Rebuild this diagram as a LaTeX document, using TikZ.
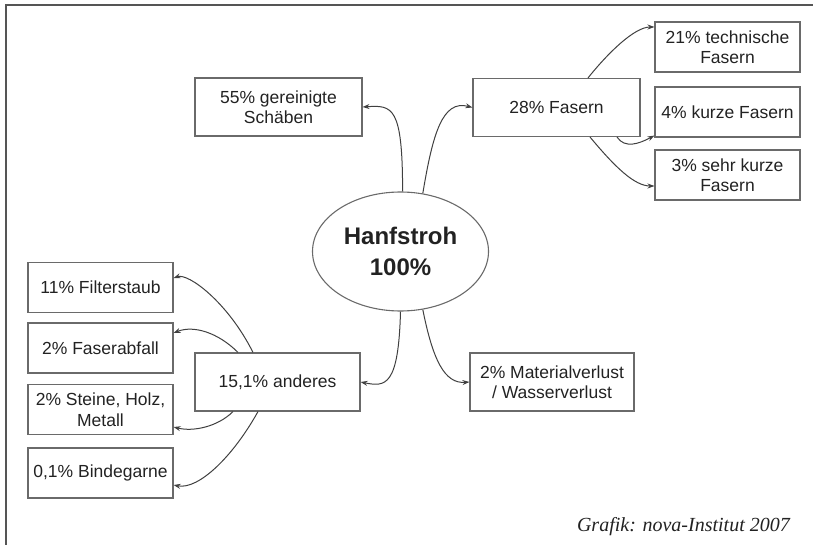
\documentclass[tikz,border=0pt]{standalone}
\usepackage{fontspec}
\newfontfamily\boxfont{Liberation Sans}
\newfontfamily\capfont{Liberation Serif}
\usetikzlibrary{arrows.meta,shapes.geometric}
\definecolor{boxgray}{HTML}{6A6A6A}
\definecolor{conngray}{HTML}{404040}
\definecolor{textgray}{HTML}{222222}
\definecolor{framegray}{HTML}{555555}
\begin{document}
\begin{tikzpicture}[x=1pt,y=-1pt,
  box/.style={draw=boxgray, line width=1.1pt, rectangle, inner sep=0pt, align=center,
    text=textgray, font=\boxfont\fontsize{17.5}{20.5}\selectfont},
  wbox/.style={box, minimum width=167pt, minimum height=58pt},
  sbox/.style={box, minimum width=145pt, minimum height=50pt},
  conn/.style={draw=conngray, line width=1pt, -{Stealth[length=7pt,width=5pt]}}
]
\useasboundingbox (0,0) rectangle (813,545);
\draw[framegray, line width=2pt] (813,5) -- (6,5) -- (6,545);

\node[ellipse, draw=boxgray, line width=1.1pt, minimum width=176pt, minimum height=119pt,
  inner sep=0pt, align=center, text=textgray,
  font=\boxfont\bfseries\fontsize{24}{31}\selectfont] (hs) at (400.5,251.5) {Hanfstroh\\100\%};

\node[wbox] (s55) at (278.5,107) {55\% gereinigte\\Schäben};
\node[wbox] (fas) at (556.5,107.5) {28\% Fasern};
\node[sbox] (t21) at (727.5,47) {21\% technische\\Fasern};
\node[sbox] (k4) at (727.5,112) {4\% kurze Fasern};
\node[sbox] (sk3) at (727.5,175) {3\% sehr kurze\\Fasern};

\node[box, minimum width=165pt, minimum height=58pt] (and) at (277.5,382) {15,1\% anderes};
\node[box, minimum width=164pt, minimum height=58pt] (mv) at (552,382) {2\% Materialverlust\\/ Wasserverlust};

\node[sbox] (f11) at (100.5,287.5) {11\% Filterstaub};
\node[sbox] (fa2) at (100.5,348) {2\% Faserabfall};
\node[sbox] (st2) at (100.5,409.5) {2\% Steine, Holz,\\Metall};
\node[sbox] (bg01) at (100.5,473) {0,1\% Bindegarne};

\node[anchor=base east, inner sep=0pt, text=textgray, font=\capfont\itshape\fontsize{20}{24}\selectfont]
  (cap) at (790,531) {Grafik: nova-Institut 2007};

% connectors from Hanfstroh
\draw[conn] (hs.88) .. controls +(0,-85) and +(30,-2) .. (s55.east);
\draw[conn] (hs.69) .. controls +(10,-60) and +(-30,-8) .. (fas.west);
\draw[conn] (hs.-90) .. controls +(-2,75) and +(25,5) .. (and.east);
\draw[conn] (hs.-69) .. controls +(10,50) and +(-25,2) .. (mv.west);

% connectors from Fasern
\draw[conn] ([xshift=31.5pt]fas.north) .. controls +(20,-25) and +(-20,0) .. ([yshift=20pt]t21.west);
\draw[conn] ([xshift=60.5pt]fas.south) .. controls +(8,12) and +(-15,8) .. ([yshift=2pt]k4.south west);
\draw[conn] ([xshift=33.5pt]fas.south) .. controls +(25,30) and +(-20,0) .. ([yshift=-11pt]sk3.west);

% connectors from anderes
\draw[conn] ([xshift=-24.5pt]and.north) .. controls +(-25,-50) and +(15,-5) .. ([yshift=9.5pt]f11.east);
\draw[conn] ([xshift=-39.5pt]and.north) .. controls +(-20,-20) and +(20,-8) .. ([yshift=15pt]fa2.east);
\draw[conn] ([xshift=-44.5pt]and.south) .. controls +(-15,15) and +(20,5) .. ([yshift=-17.5pt]st2.east);
\draw[conn] ([xshift=-19.5pt]and.south) .. controls +(-25,45) and +(25,5) .. ([yshift=-12pt]bg01.east);
\end{tikzpicture}
\end{document}
